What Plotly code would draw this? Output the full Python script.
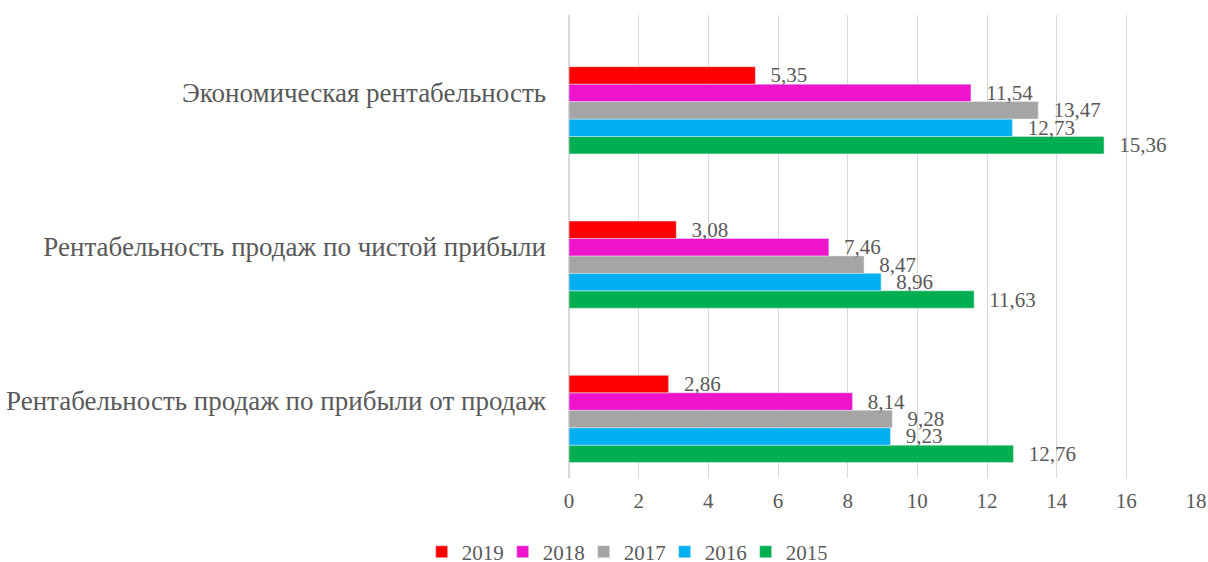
import plotly.graph_objects as go

# categories, bottom to top as plotly draws them
categories = [
    "Рентабельность продаж по прибыли от продаж",
    "Рентабельность продаж по чистой прибыли",
    "Экономическая рентабельность",
]
years = ["2015", "2016", "2017", "2018", "2019"]

v2015 = [12.76, 11.63, 15.36]
v2016 = [9.23, 8.96, 12.73]
v2017 = [9.28, 8.47, 13.47]
v2018 = [8.14, 7.46, 11.54]
v2019 = [2.86, 3.08, 5.35]

values = [v2015, v2016, v2017, v2018, v2019]
colors = ["#00B050", "#00B0F0", "#A5A5A5", "#EE14CC", "#FF0000"]

txt_color = "#595959"
font = "Liberation Serif, Times New Roman, serif"

bar_w = 0.113
start = -0.40  # group is shifted down inside each category band, like the original
pad = "\u00a0\u00a0\u200a"

fig = go.Figure()
for i, (yr, vals, col) in enumerate(zip(years, values, colors)):
    fig.add_trace(go.Bar(
        y=categories,
        x=vals,
        name=yr,
        orientation="h",
        marker_color=col,
        width=bar_w,
        offset=start + i * bar_w,
        text=[pad + f"{v:.2f}".replace(".", ",") for v in vals],
        textposition="outside",
        constraintext="none",
        cliponaxis=False,
        textfont=dict(size=21, color=txt_color, family=font),
    ))

fig.update_layout(
    width=1208,
    height=562,
    barmode="overlay",
    plot_bgcolor="white",
    paper_bgcolor="white",
    margin=dict(l=569, r=12, t=15, b=84, autoexpand=False),
    font=dict(family=font, size=21, color=txt_color),
    showlegend=True,
    legend=dict(
        orientation="h",
        traceorder="reversed",
        entrywidth=36,
        x=0.088,
        xanchor="center",
        y=-0.16,
        yanchor="middle",
        font=dict(size=21, color=txt_color, family=font),
    ),
)

fig.update_xaxes(
    range=[0, 18],
    dtick=2,
    automargin=False,
    showgrid=True,
    gridcolor="#D9D9D9",
    gridwidth=1,
    zeroline=True,
    zerolinecolor="#D9D9D9",
    showline=False,
    ticks="",
    ticklabelstandoff=8,
    tickfont=dict(size=21, color=txt_color),
)
fig.update_yaxes(
    type="category",
    categoryorder="array",
    categoryarray=categories,
    range=[-0.5, 2.5],
    automargin=False,
    showgrid=False,
    showline=False,
    ticks="",
    ticklabelstandoff=22,
    tickfont=dict(size=27, color=txt_color),
)

# drop the default 8px body margin so the figure fills the window exactly
fig.write_html(
    "out.html",
    config={"displayModeBar": False},
    post_script="document.body.style.margin='0';document.body.style.overflow='hidden';",
)
